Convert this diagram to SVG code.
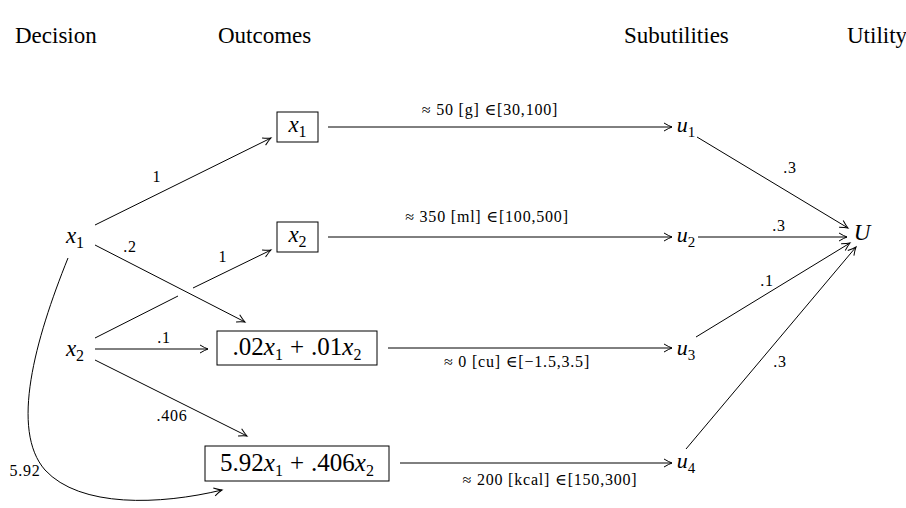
<svg xmlns="http://www.w3.org/2000/svg" width="906" height="508" viewBox="0 0 906 508" font-family="'Liberation Serif', serif">
<style>
text{font-family:"Liberation Serif","DejaVu Serif",serif;fill:#000}
.t{font-size:23px}
.m{font-size:23px;font-style:italic}
.mu{font-size:22px;font-style:italic}
.mb{font-size:25px}
.i{font-style:italic}
.sub{font-size:16px;font-style:normal}
.sub2{font-size:15px;font-style:normal}
.l{font-size:16px;letter-spacing:0.8px}
.e{fill:none;stroke:#000;stroke-width:1}
.box{fill:#fff;stroke:#000;stroke-width:1}
</style>
<defs>
<marker id="ar" markerUnits="userSpaceOnUse" markerWidth="14" markerHeight="14" viewBox="-10 -7 14 14" refX="0" refY="0" orient="auto">
<path d="M -8,-4 Q -3,-1 0,0 Q -3,1 -8,4" fill="none" stroke="#000" stroke-width="1"/>
</marker>
</defs>
<g id="titles">
<text class="t" x="15" y="43">Decision</text>
<text class="t" x="218" y="43">Outcomes</text>
<text class="t" x="624" y="43">Subutilities</text>
<text class="t" x="847" y="43">Utility</text>
</g>
<g id="connectors">
<line class="e" x1="95" y1="338" x2="178" y2="296"/>
<line class="e" x1="193" y1="288" x2="271" y2="250" marker-end="url(#ar)"/>
<line class="e" x1="95" y1="225" x2="271" y2="138" marker-end="url(#ar)"/>
<line class="e" x1="95" y1="245" x2="245" y2="322" marker-end="url(#ar)"/>
<line class="e" x1="95" y1="349" x2="208" y2="349" marker-end="url(#ar)"/>
<line class="e" x1="95" y1="360" x2="247" y2="436" marker-end="url(#ar)"/>
<path class="e" d="M 68,258 C 35,340 10,430 45,470 C 80,508 160,505 222,490" marker-end="url(#ar)"/>
<line class="e" x1="328" y1="127" x2="672" y2="127" marker-end="url(#ar)"/>
<line class="e" x1="328" y1="237" x2="672" y2="237" marker-end="url(#ar)"/>
<line class="e" x1="388" y1="348" x2="672" y2="348" marker-end="url(#ar)"/>
<line class="e" x1="400" y1="463" x2="672" y2="463" marker-end="url(#ar)"/>
<line class="e" x1="697" y1="137" x2="848" y2="228" marker-end="url(#ar)"/>
<line class="e" x1="698" y1="237" x2="847" y2="237" marker-end="url(#ar)"/>
<line class="e" x1="696" y1="337" x2="850" y2="243" marker-end="url(#ar)"/>
<line class="e" x1="686" y1="449" x2="856" y2="247" marker-end="url(#ar)"/>
<text class="l" x="157" y="182" text-anchor="middle">1</text>
<text class="l" x="130" y="252" text-anchor="middle">.2</text>
<text class="l" x="223" y="262" text-anchor="middle">1</text>
<text class="l" x="164" y="343" text-anchor="middle">.1</text>
<text class="l" x="172" y="421" text-anchor="middle">.406</text>
<text class="l" x="25" y="476" text-anchor="middle">5.92</text>
<text class="l" x="490" y="115" text-anchor="middle">≈ 50  [g] ∈[30,100]</text>
<text class="l" x="487" y="222" text-anchor="middle">≈ 350  [ml] ∈[100,500]</text>
<text class="l" x="517" y="367" text-anchor="middle">≈ 0  [cu] ∈[−1.5,3.5]</text>
<text class="l" x="550" y="485" text-anchor="middle">≈ 200  [kcal] ∈[150,300]</text>
<text class="l" x="790" y="173" text-anchor="middle">.3</text>
<text class="l" x="779" y="231" text-anchor="middle">.3</text>
<text class="l" x="767" y="286" text-anchor="middle">.1</text>
<text class="l" x="780" y="367" text-anchor="middle">.3</text>
</g>
<g id="n-x1"><text class="m" x="75" y="243" text-anchor="middle">x<tspan class="sub" dy="5">1</tspan></text></g>
<g id="n-x2"><text class="m" x="75" y="356" text-anchor="middle">x<tspan class="sub" dy="5">2</tspan></text></g>
<g id="o1"><rect class="box" x="277" y="112" width="41" height="30"/><text class="m" x="297.5" y="132" text-anchor="middle">x<tspan class="sub" dy="5">1</tspan></text></g>
<g id="o2"><rect class="box" x="277" y="222" width="41" height="30"/><text class="m" x="297.5" y="242" text-anchor="middle">x<tspan class="sub" dy="5">2</tspan></text></g>
<g id="o3"><rect class="box" x="217" y="331" width="160" height="34"/><text class="mb" x="297" y="355" text-anchor="middle">.02<tspan class="i">x</tspan><tspan class="sub" dy="5">1</tspan><tspan dx="7" dy="-5">+</tspan><tspan dx="7">.01</tspan><tspan class="i">x</tspan><tspan class="sub" dy="5">2</tspan></text></g>
<g id="o4"><rect class="box" x="205" y="446" width="184" height="35"/><text class="mb" x="297" y="471" text-anchor="middle">5.92<tspan class="i">x</tspan><tspan class="sub" dy="5">1</tspan><tspan dx="7" dy="-5">+</tspan><tspan dx="7">.406</tspan><tspan class="i">x</tspan><tspan class="sub" dy="5">2</tspan></text></g>
<g id="u1"><text class="mu" x="686" y="132" text-anchor="middle">u<tspan class="sub2" dy="5">1</tspan></text></g>
<g id="u2"><text class="mu" x="686" y="242" text-anchor="middle">u<tspan class="sub2" dy="5">2</tspan></text></g>
<g id="u3"><text class="mu" x="686" y="355" text-anchor="middle">u<tspan class="sub2" dy="5">3</tspan></text></g>
<g id="u4"><text class="mu" x="686" y="468" text-anchor="middle">u<tspan class="sub2" dy="5">4</tspan></text></g>
<g id="U"><text class="m" x="862" y="240" text-anchor="middle">U</text></g>
</svg>
